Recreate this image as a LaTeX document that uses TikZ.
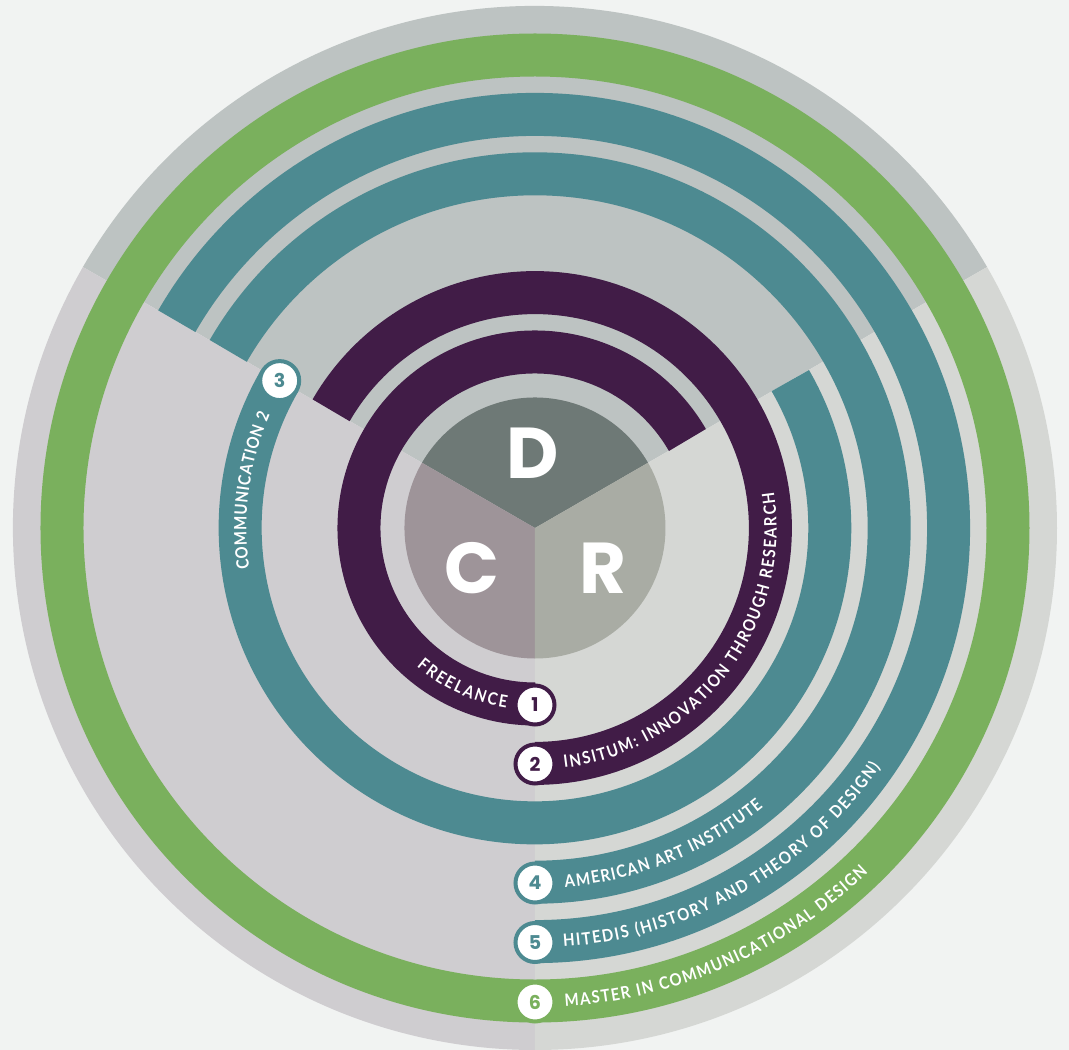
\documentclass[tikz,border=0pt]{standalone}
\usepackage{fontspec}
\setmainfont{Lato}
\newfontfamily\popfont{Poppins}
\newfontfamily\labfont{Lato}[FakeStretch=0.88]
\usetikzlibrary{decorations.text}
\definecolor{bgc}{HTML}{F1F3F2}
\definecolor{topc}{HTML}{BDC3C2}
\definecolor{leftc}{HTML}{CFCDD0}
\definecolor{rightc}{HTML}{D5D7D4}
\definecolor{greenc}{HTML}{7AB05D}
\definecolor{tealc}{HTML}{4D8A91}
\definecolor{purplec}{HTML}{411C47}
\definecolor{dcol}{HTML}{6E7976}
\definecolor{ccol}{HTML}{9E9499}
\definecolor{rcol}{HTML}{A9ACA4}
\tikzset{
  band/.style={line width=43pt, draw=#1},
  marker/.style={circle, fill=white, draw=#1, line width=4pt, minimum size=39pt, inner sep=0pt, text=#1, font=\popfont\bfseries\fontsize{19}{19}\selectfont},
  bigletter/.style={text=white, font=\popfont\bfseries\fontsize{72}{72}\selectfont, inner sep=0pt},
  curvelabel/.style={decorate, decoration={text along path, text={|\labfont\bfseries\fontsize{17}{20}\selectfont|#1}, text color=white, text align=fit to path}}
}
\begin{document}
\begin{tikzpicture}[x=1pt, y=1pt]
\useasboundingbox (-535,-522) rectangle (534,528);
\fill[bgc] (-535,-522) rectangle (534,528);
% background sectors
\fill[topc] (0,0) -- (30:522pt) arc[start angle=30, end angle=150, radius=522pt] -- cycle;
\fill[leftc] (0,0) -- (150:522pt) arc[start angle=150, end angle=270, radius=522pt] -- cycle;
\fill[rightc] (0,0) -- (270:522pt) arc[start angle=270, end angle=390, radius=522pt] -- cycle;
% rings
\draw[band=purplec] (30:176pt) arc[start angle=30, end angle=270, radius=176pt];
\draw[band=purplec] (-90:235.4pt) arc[start angle=-90, end angle=150, radius=235.4pt];
\draw[band=tealc] (150:294.8pt) arc[start angle=150, end angle=390, radius=294.8pt];
\draw[band=tealc] (-90:354.2pt) arc[start angle=-90, end angle=150, radius=354.2pt];
\draw[band=tealc] (-90:413.6pt) arc[start angle=-90, end angle=150, radius=413.6pt];
\draw[band=greenc] (0,0) circle[radius=473pt];
% pie
\fill[dcol] (0,0) -- (30:130.5pt) arc[start angle=30, end angle=150, radius=130.5pt] -- cycle;
\fill[ccol] (0,0) -- (150:130.5pt) arc[start angle=150, end angle=270, radius=130.5pt] -- cycle;
\fill[rcol] (0,0) -- (270:130.5pt) arc[start angle=270, end angle=390, radius=130.5pt] -- cycle;
\node[bigletter] (D) at (-2,75) {D};
\node[bigletter] (C) at (-63,-40) {C};
\node[bigletter] (R) at (68,-40) {R};
% curved labels
\path[curvelabel={FREELANCE}] (229.5:182.3pt) arc[start angle=229.5, end angle=261, radius=182.3pt];
\path[curvelabel={INSITUM: INNOVATION THROUGH RESEARCH}] (277:241.7pt) arc[start angle=277, end angle=368.6, radius=241.7pt];
\path[curvelabel={COMMUNICATION 2}] (188.1:288.5pt) arc[start angle=188.1, end angle=156.8, radius=288.5pt];
\path[curvelabel={AMERICAN ART INSTITUTE}] (274.8:360.5pt) arc[start angle=274.8, end angle=309.3, radius=360.5pt];
\path[curvelabel={HITEDIS (HISTORY AND THEORY OF DESIGN)}] (273.9:419.9pt) arc[start angle=273.9, end angle=325.3, radius=419.9pt];
\path[curvelabel={MASTER IN COMMUNICATIONAL DESIGN}] (273.6:479.3pt) arc[start angle=273.6, end angle=314, radius=479.3pt];
% markers
\node[marker=purplec] (m1) at (270:177pt) {1};
\node[marker=purplec] (m2) at (270:236pt) {2};
\node[marker=tealc] (m3) at (150:294.8pt) {3};
\node[marker=tealc] (m4) at (270:355pt) {4};
\node[marker=tealc] (m5) at (270:414.5pt) {5};
\node[marker=greenc] (m6) at (270:474pt) {6};
\end{tikzpicture}
\end{document}
